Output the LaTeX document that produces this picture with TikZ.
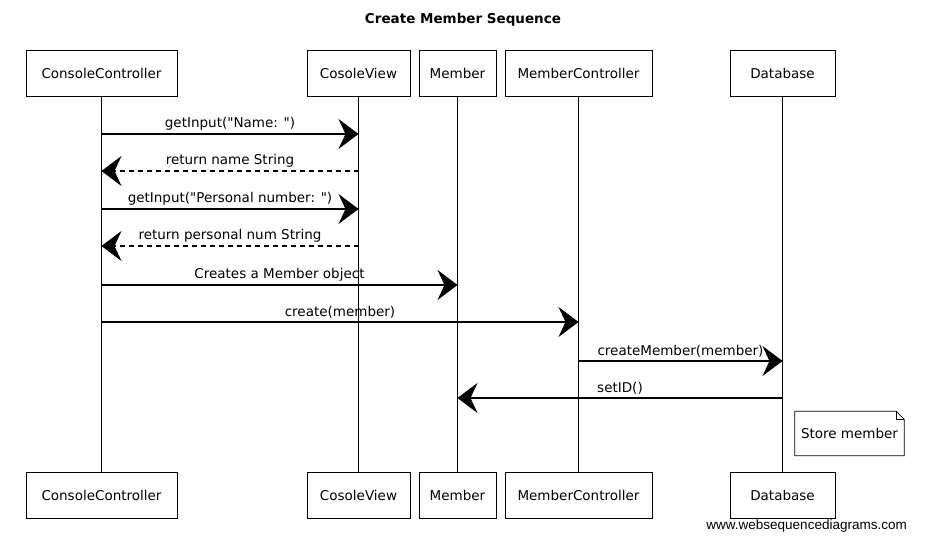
\documentclass[tikz,border=0pt]{standalone}
\usepackage{fontspec}
\setmainfont{DejaVu Sans}[Ligatures=TeXOff]
\newfontfamily\wmfont{Liberation Sans}
\usetikzlibrary{arrows.meta}
\begin{document}
\begin{tikzpicture}[x=1pt,y=-1pt,
 actor/.style={draw,line width=0.9pt,minimum height=46pt,inner sep=0pt,font=\fontsize{13.5}{16}\selectfont},
 life/.style={line width=0.7pt},
 msg/.style={line width=1.1pt,-{Stealth[length=20pt,width=30pt,inset=7pt]}},
 ret/.style={msg,dash pattern=on 5pt off 4pt},
 lbl/.style={font=\fontsize{13.5}{16}\selectfont,inner sep=1pt,above=2pt,midway},
 notebox/.style={line width=0.8pt}]
\useasboundingbox (0,0) rectangle (943,559);
\node[font=\bfseries\fontsize{13.5}{16}\selectfont] (title) at (463,20) {Create Member Sequence};
% top actors
\node[actor,minimum width=151pt] (cc) at (101.5,73) {ConsoleController};
\node[actor,minimum width=103pt] (cv) at (358.5,73) {CosoleView};
\node[actor,minimum width=77pt] (mb) at (457.5,73) {Member};
\node[actor,minimum width=147pt] (mc) at (578.5,73) {MemberController};
\node[actor,minimum width=105pt] (db) at (782.5,73) {Database};
% bottom actors
\node[actor,minimum width=151pt] (ccb) at (101.5,495) {ConsoleController};
\node[actor,minimum width=103pt] (cvb) at (358.5,495) {CosoleView};
\node[actor,minimum width=77pt] (mbb) at (457.5,495) {Member};
\node[actor,minimum width=147pt] (mcb) at (578.5,495) {MemberController};
\node[actor,minimum width=105pt] (dbb) at (782.5,495) {Database};
% lifelines
\draw[life] (cc.south) -- (ccb.north);
\draw[life] (cv.south) -- (cvb.north);
\draw[life] (mb.south) -- (mbb.north);
\draw[life] (mc.south) -- (mcb.north);
\draw[life] (db.south) -- (dbb.north);
% messages
\draw[msg] (cc.south |- 0,134) -- node[lbl] {getInput("Name: ")} (cv.south |- 0,134);
\draw[ret] (cv.south |- 0,171) -- node[lbl] {return name String} (cc.south |- 0,171);
\draw[msg] (cc.south |- 0,209) -- node[lbl] {getInput("Personal number: ")} (cv.south |- 0,209);
\draw[ret] (cv.south |- 0,246) -- node[lbl] {return personal num String} (cc.south |- 0,246);
\draw[msg] (cc.south |- 0,285) -- node[lbl] {Creates a Member object} (mb.south |- 0,285);
\draw[msg] (cc.south |- 0,322) -- node[lbl] {create(member)} (mc.south |- 0,322);
\draw[msg] (mc.south |- 0,361) -- node[lbl] {createMember(member)} (db.south |- 0,361);
\draw[msg] (db.south |- 0,398) -- node[lbl] {setID()} (mb.south |- 0,398);
% note
\node[minimum width=109pt,minimum height=44pt,inner sep=0pt,font=\fontsize{13.5}{16}\selectfont] (note) at (849.5,433.5) {Store member};
\draw[notebox] (note.north west) -- ([xshift=-8pt]note.north east) -- ([yshift=-8pt]note.north east) -- (note.south east) -- (note.south west) -- cycle;
\draw[notebox] ([xshift=-8pt]note.north east) -- ([xshift=-8pt,yshift=-8pt]note.north east) -- ([yshift=-8pt]note.north east);
% watermark
\node[anchor=east,font=\wmfont\fontsize{13.5}{15}\selectfont,inner sep=0pt] (wm) at (907,526) {www.websequencediagrams.com};
\end{tikzpicture}
\end{document}
